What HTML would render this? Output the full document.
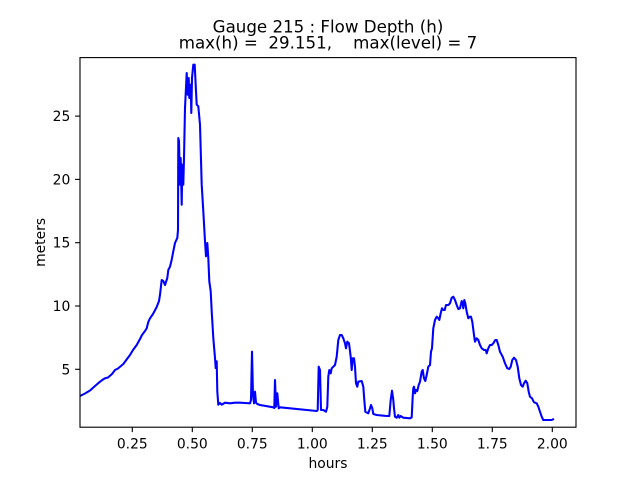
<!DOCTYPE html>
<html><head><meta charset="utf-8"><style>
html,body{margin:0;padding:0;background:#fff;}
svg{display:block;}
text{font-family:"DejaVu Sans","Liberation Sans",sans-serif;fill:#000;}
</style></head><body>
<svg width="640" height="480" viewBox="0 0 640 480" xmlns="http://www.w3.org/2000/svg">
<rect x="0" y="0" width="640" height="480" fill="#fff"/>
<text x="328" y="32.5" font-size="16.67" text-anchor="middle">Gauge 215 : Flow Depth (h)</text>
<text x="328" y="48.5" font-size="16.67" text-anchor="middle" xml:space="preserve">max(h) =  29.151,    max(level) = 7</text>
<clipPath id="c"><rect x="80" y="57.6" width="496" height="369.6"/></clipPath>
<polyline clip-path="url(#c)" fill="none" stroke="#0000ff" stroke-width="2.08" stroke-linejoin="round" stroke-linecap="square" points="
80,396 85,393.5 90,390.5 95,386 100,381.7 103,379.5 105,378.3 108,377.5 112,374 115,370 118,368.5 123.3,364 127,359 130,355 133,350 136.7,345 140,339 142,335 143.3,333.3 145,331 146.7,328.3 148.3,322 150,318.3 153,314 156.7,307 159,301 160,294.7
161.7,280 163.3,281 165,285 167.3,278 168.3,270 170,266.7 171.7,259.7 173.3,251.3 175,243 177.3,238 178,230 178.3,138 179,141 179.7,175 180,184.7 180.7,158 181.7,204.7 182.3,164.7 183.3,184.7 184,158 185,108 186.7,73 187.7,94.7 188.7,78 189.3,98 190.7,84.7 191.3,113 192,78 193.3,64.7 194.7,64.7 196,91.3 196.7,104.7 198.3,106.3 200,124.7 201.7,184.7 203.3,211.3 205,241.3 206,256.3 207.3,243 208.3,258 209.3,281.3 210.7,291.3 211.7,311.3 213.3,338 215,358 215.7,368 216.7,361.3 217.3,391.3 218.3,404.7 220,403 221.7,404.7 225,402.7 230,403.3 235,402.7 240,402.7 245,403 250,403.3
251,400 252,351.7 253,395 254,403.3 255,391.7 256,402.7 257.3,404 260,405 273.3,407.3 274.3,408 275,380 276,406.7 277.3,393.3 278.7,408.3 280,407.3 316.7,411 317.7,410 318.7,366.7 320,370 321,410 323.3,410 326,411.7 327.3,406.7 328.3,376.7 329.3,370 330.7,373.3 331.7,368.3 333.3,366.7 335,365 336.7,356.7 338.3,340 340,335 341.7,335 343.3,338.3 345,343.3 346,348.3 347.3,341.7 349,343.3 350.7,356.7 351.7,370 352.7,358.3 354,358.3 355,366.7 356,383.3 357.3,386.7 358.3,381.7 361.7,381 363.3,386.7 364.3,400 365.3,411.7 368.3,413.3 370,408.3 371,405 372.3,408.3 373.3,414 376.7,415 386.7,416 389.3,416 390.7,400 392,390.7 393.3,400 394,408.3 395,416.7 396.7,417.7 398.3,415 399.3,417.7 400.7,416 403.3,417.7 410,418.3
411.7,417.3 412.7,396.7 413.3,388.3 414,386.7 415,393.3 416,390 417.3,391 418.7,385 420,381.7 421.7,371.7 422.7,370 424,378.3 425.3,381 426.7,375 428.3,366.7 430,365 431,351.7 432,348.3 433.3,328.3 435,320 436.7,316.7 438.3,318.3 439.3,320 440.7,313.3 442,308.3 443.3,310 444.7,310 446,305 448.3,305 450,303.3 451.7,297.7 453.3,296.7 455,300 456.7,305 458.3,309 460,308.3 461.7,301 462.7,304.3 463.3,308.3 464.3,300 465.3,303.3 466.7,311.7 468.3,318.3 470,316.7 471,316.7 472.3,321.7 474,335 475,341.7 476.7,338.3 478.3,340 480,345 481.7,348.3 484,350 485.7,350 486.7,353.3 488.3,348.3 490,345 491.7,345 493.3,343.3 495.3,340 496.7,340 498.3,345 500,351.7 502.7,356.7 505,363.3 507.3,368.3 509.3,369 510.7,366.7 512.3,360 514,357.7 516,360 517.7,366.7 519.3,378.3 521,385 522.7,386.7 524,383.3 525.7,380.7 527.3,383.3 528.7,391.7 530,396.7 532,398.3 534,402.3 536.7,403.3 538.3,406.7 540,411.7 541.7,416.7 543.3,420 548.3,420 551.7,420 553,419.3"/>
<rect x="80" y="57.6" width="496" height="369.6" fill="none" stroke="#000" stroke-width="1.11"/>
<g stroke="#000" stroke-width="1.11">
<line x1="132.3" y1="427.2" x2="132.3" y2="432.1"/>
<line x1="192.3" y1="427.2" x2="192.3" y2="432.1"/>
<line x1="252.3" y1="427.2" x2="252.3" y2="432.1"/>
<line x1="312.3" y1="427.2" x2="312.3" y2="432.1"/>
<line x1="372.3" y1="427.2" x2="372.3" y2="432.1"/>
<line x1="432.3" y1="427.2" x2="432.3" y2="432.1"/>
<line x1="492.3" y1="427.2" x2="492.3" y2="432.1"/>
<line x1="552.3" y1="427.2" x2="552.3" y2="432.1"/>
<line x1="75.1" y1="369.3" x2="80" y2="369.3"/>
<line x1="75.1" y1="306" x2="80" y2="306"/>
<line x1="75.1" y1="242.7" x2="80" y2="242.7"/>
<line x1="75.1" y1="179.4" x2="80" y2="179.4"/>
<line x1="75.1" y1="116.1" x2="80" y2="116.1"/>
</g>
<g font-size="13.89" text-anchor="middle">
<text x="132.3" y="448.3">0.25</text>
<text x="192.3" y="448.3">0.50</text>
<text x="252.3" y="448.3">0.75</text>
<text x="312.3" y="448.3">1.00</text>
<text x="372.3" y="448.3">1.25</text>
<text x="432.3" y="448.3">1.50</text>
<text x="492.3" y="448.3">1.75</text>
<text x="552.3" y="448.3">2.00</text>
</g>
<g font-size="13.89" text-anchor="end">
<text x="70.3" y="374.3">5</text>
<text x="70.3" y="311">10</text>
<text x="70.3" y="247.7">15</text>
<text x="70.3" y="184.4">20</text>
<text x="70.3" y="121.1">25</text>
</g>
<text x="328" y="468" font-size="13.89" text-anchor="middle">hours</text>
<text transform="translate(45,242.4) rotate(-90)" font-size="13.89" text-anchor="middle">meters</text>
</svg>
</body></html>
